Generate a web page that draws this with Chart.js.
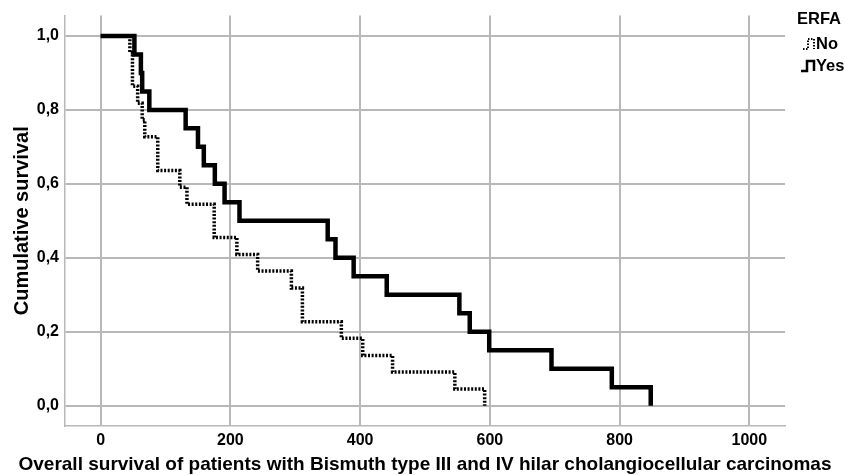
<!DOCTYPE html>
<html>
<head>
<meta charset="utf-8">
<script src="https://cdn.jsdelivr.net/npm/chart.js@4.4.1/dist/chart.umd.min.js"></script>
<style>
  html, body { margin: 0; padding: 0; background: #fff; }
</style>
</head>
<body>
<canvas id="km" width="845" height="475"></canvas>
<script>
// Kaplan-Meier steps (time in days, survival after the drop)
const yesTimes = [0, 52, 62, 64, 75, 131, 150, 159, 176, 191, 214, 350, 362, 390, 441, 553, 569, 599, 695, 788, 848];
const yesSurv  = [1, 0.95, 0.9, 0.85, 0.8, 0.75, 0.7, 0.65, 0.6, 0.55, 0.5, 0.45, 0.4, 0.35, 0.3, 0.25, 0.2, 0.15, 0.1, 0.05, 0];

const noTimes = [0, 45, 49, 57, 64, 68, 88, 122, 133, 175, 210, 242, 294, 311, 371, 404, 450, 546, 592];
const noSurv  = [1, 0.955, 0.864, 0.818, 0.773, 0.727, 0.636, 0.591, 0.545, 0.455, 0.409, 0.364, 0.318, 0.227, 0.182, 0.136, 0.091, 0.045, 0];

const xTicks = [0, 200, 400, 600, 800, 1000];
const yTicks = [0, 0.2, 0.4, 0.6, 0.8, 1.0];

const legendTitle = 'ERFA';
const groupLabels = ['No', 'Yes'];

const xTitle = 'Overall survival of patients with Bismuth type III and IV hilar cholangiocellular carcinomas';
const yTitle = 'Cumulative survival';

const FONT = '"Liberation Sans", Arial, sans-serif';
const GRID = '#b8b8b8';

function toPoints(times, surv) {
  return times.map((t, i) => ({ x: t, y: surv[i] }));
}

// legend with step-shaped icons, drawn by hand like the SPSS one
// (x title too: Chart.js squeezes it to the plot width otherwise)
const erfaLegend = {
  id: 'erfaLegend',
  afterDraw(chart) {
    const ctx = chart.ctx;
    ctx.save();
    ctx.fillStyle = '#000';
    ctx.strokeStyle = '#000';
    ctx.textBaseline = 'middle';

    ctx.textAlign = 'center';
    ctx.font = 'bold 19px ' + FONT;
    ctx.fillText(xTitle, 425, 465);

    ctx.textAlign = 'left';
    ctx.font = 'bold 16.5px ' + FONT;
    ctx.fillText(legendTitle, 797, 19);

    // No - dotted step
    ctx.lineWidth = 2;
    ctx.setLineDash([1.5, 1.5]);
    ctx.beginPath();
    ctx.moveTo(803, 49);
    ctx.lineTo(808, 49);
    ctx.lineTo(808, 39);
    ctx.lineTo(814, 39);
    ctx.lineTo(814, 49);
    ctx.stroke();
    ctx.fillText(groupLabels[0], 816, 44);

    // Yes - solid step
    ctx.setLineDash([]);
    ctx.lineWidth = 2.5;
    ctx.beginPath();
    ctx.moveTo(801, 71);
    ctx.lineTo(807, 71);
    ctx.lineTo(807, 61);
    ctx.lineTo(814, 61);
    ctx.lineTo(814, 71);
    ctx.stroke();
    ctx.fillText(groupLabels[1], 816, 66);
    ctx.restore();
  }
};

const config = {
  type: 'line',
  data: {
    datasets: [
      {
        label: groupLabels[1],
        data: toPoints(yesTimes, yesSurv),
        borderColor: '#000',
        borderWidth: 4.5,
        stepped: 'before',
        pointRadius: 0,
        fill: false,
        borderCapStyle: 'butt',
        borderJoinStyle: 'miter'
      },
      {
        label: groupLabels[0],
        data: toPoints(noTimes, noSurv),
        borderColor: '#000',
        borderWidth: 3.5,
        borderDash: [2, 1.6],
        stepped: 'before',
        pointRadius: 0,
        fill: false,
        borderCapStyle: 'butt',
        borderJoinStyle: 'miter'
      }
    ]
  },
  options: {
    responsive: false,
    animation: false,
    devicePixelRatio: 1,
    layout: {
      padding: { left: 0, top: 12, right: 60, bottom: 0 }
    },
    plugins: {
      legend: { display: false },
      tooltip: { enabled: false }
    },
    scales: {
      x: {
        type: 'linear',
        min: -55,
        max: 1055,
        afterBuildTicks: (s) => { s.ticks = xTicks.map(v => ({ value: v })); },
        afterFit: (s) => { s.height = 49; },
        grid: { color: GRID, lineWidth: 2, drawTicks: false },
        border: { display: true, color: GRID, width: 1.5 },
        ticks: {
          padding: 5,
          color: '#000',
          font: { family: FONT, size: 16, weight: 'bold' },
          callback: (v) => String(v)
        },
        title: { display: false }
      },
      y: {
        type: 'linear',
        min: -0.055,
        max: 1.055,
        afterBuildTicks: (s) => { s.ticks = yTicks.map(v => ({ value: v })); },
        afterFit: (s) => { s.width = 65; },
        grid: { color: GRID, lineWidth: 2, drawTicks: false },
        border: { display: true, color: GRID, width: 1.5 },
        ticks: {
          padding: 6,
          color: '#000',
          font: { family: FONT, size: 16, weight: 'bold' },
          callback: (v) => v.toFixed(1).replace('.', ',')
        },
        title: {
          display: true,
          text: yTitle,
          color: '#000',
          font: { family: FONT, size: 20, weight: 'bold' },
          padding: { top: 10, bottom: 0 }
        }
      }
    }
  },
  plugins: [erfaLegend]
};

window.addEventListener('DOMContentLoaded', () => {
  const ctx = document.getElementById('km').getContext('2d');
  new Chart(ctx, config);
});
</script>
</body>
</html>
